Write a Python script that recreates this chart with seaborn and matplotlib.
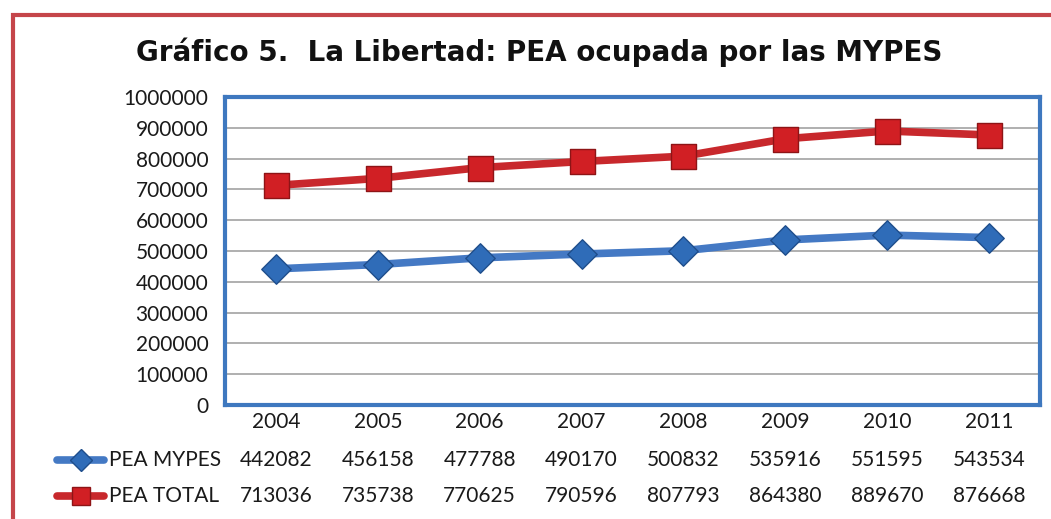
import matplotlib.pyplot as plt
import matplotlib.patches as mpatches
from matplotlib.lines import Line2D
import matplotlib.transforms as mtransforms
import seaborn as sns
import pandas as pd

years = ['2004', '2005', '2006', '2007', '2008', '2009', '2010', '2011']
pea_mypes = [442082, 456158, 477788, 490170, 500832, 535916, 551595, 543534]
pea_total = [713036, 735738, 770625, 790596, 807793, 864380, 889670, 876668]
series_names = ['PEA MYPES', 'PEA TOTAL']
y_ticks = [0, 100000, 200000, 300000, 400000, 500000, 600000, 700000, 800000, 900000, 1000000]

df = pd.DataFrame({
    'year': years * 2,
    'value': pea_mypes + pea_total,
    'serie': [series_names[0]] * len(years) + [series_names[1]] * len(years),
})

W, H = 1051, 519
sns.set_theme(style='white')
plt.rcParams['font.family'] = ['Lato', 'DejaVu Sans']

fig = plt.figure(figsize=(W / 100, H / 100), dpi=100)
fig.patch.set_facecolor('white')
ax = fig.add_axes([225 / W, 1 - 405 / H, 815 / W, 308 / H])

line_col = {'PEA MYPES': '#4479C4', 'PEA TOTAL': '#C8282C'}
face_col = {'PEA MYPES': '#2F6CB8', 'PEA TOTAL': '#D11F24'}
edge_col = {'PEA MYPES': '#1F4E8C', 'PEA TOTAL': '#8E1416'}
marker = {'PEA MYPES': 'D', 'PEA TOTAL': 's'}
msize = {'PEA MYPES': 15, 'PEA TOTAL': 18}
txt = '#1a1a1a'
fs = 15

sns.lineplot(data=df, x='year', y='value', hue='serie', palette=line_col,
             linewidth=5.5, legend=False, ax=ax, sort=False)
for name in series_names:
    sub = df[df['serie'] == name]
    sns.scatterplot(data=sub, x='year', y='value', marker=marker[name],
                    s=msize[name] ** 2, color=face_col[name],
                    edgecolor=edge_col[name], linewidth=1.0, ax=ax,
                    legend=False, zorder=5)

ax.set_xlim(-0.5, len(years) - 0.5)
ax.set_ylim(0, 1000000)
ax.set_yticks(y_ticks)
ax.set_yticklabels([str(v) for v in y_ticks], fontsize=fs, color=txt)
ax.set_xticks(range(len(years)))
ax.set_xticklabels(years, fontsize=fs, color=txt)
ax.tick_params(axis='y', length=0, pad=12)
ax.tick_params(axis='x', length=0, pad=5)
ax.set_xlabel('')
ax.set_ylabel('')
ax.yaxis.grid(True, color='#9a9a9a', linewidth=1.1)
ax.set_axisbelow(True)
for spine in ax.spines.values():
    spine.set_visible(True)
    spine.set_edgecolor('#3E78BF')
    spine.set_linewidth(3)

# data table rows below the axis
trans = mtransforms.blended_transform_factory(ax.transData, fig.transFigure)
row_y = [1 - 460 / H, 1 - 496 / H]
for vals, yy in zip([pea_mypes, pea_total], row_y):
    for i, v in enumerate(vals):
        fig.text(i, yy, str(v), transform=trans, ha='center', va='center',
                 fontsize=fs, color=txt)

for name, yy in zip(series_names, row_y):
    fig.add_artist(Line2D([57 / W, 104 / W], [yy, yy], color=line_col[name],
                          linewidth=5.5, solid_capstyle='round'))
    fig.add_artist(Line2D([81 / W], [yy], marker=marker[name],
                          markersize=msize[name] * 0.75, color=face_col[name],
                          markeredgecolor=edge_col[name], linestyle='none'))
    fig.text(109 / W, yy, name, ha='left', va='center', fontsize=fs,
             color=txt)

fig.text(539 / W, 1 - 52 / H, 'Gráfico 5.  La Libertad: PEA ocupada por las MYPES',
         ha='center', va='center', fontsize=20, fontweight='bold',
         family='DejaVu Sans', color='#111111')

# red outer frame
fig.add_artist(mpatches.Rectangle((13 / W, -0.05), 1.2, 1 - 15 / H + 0.05,
                                  transform=fig.transFigure, fill=False,
                                  edgecolor='#C5454A', linewidth=3))

fig.savefig('out.png', dpi=100, facecolor='white')
